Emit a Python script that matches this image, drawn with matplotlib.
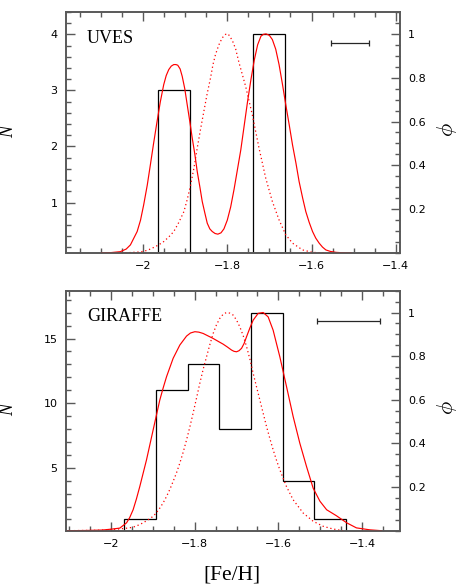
import matplotlib
matplotlib.use("Agg")
import matplotlib.pyplot as plt
from matplotlib.ticker import MultipleLocator, FixedLocator, FuncFormatter

# ---------------- data ----------------
# UVES histogram
uves_edges = [-1.964, -1.889, -1.814, -1.739, -1.664]
uves_counts = [3, 0, 0, 4]
# UVES smoothed distribution (solid)
uves_solid_x = [-2.099, -2.075, -2.054, -2.040, -2.030, -2.014, -2.006, -1.9985, -1.990,
                -1.9826, -1.975, -1.9667, -1.959, -1.951, -1.945, -1.939, -1.933, -1.927,
                -1.922, -1.9176, -1.912, -1.907, -1.901, -1.8952, -1.889, -1.8833, -1.877,
                -1.8714, -1.865, -1.8595, -1.853, -1.8476, -1.8415, -1.8357, -1.829, -1.8224,
                -1.815, -1.808, -1.800, -1.792, -1.784, -1.776, -1.768, -1.760, -1.752,
                -1.744, -1.736, -1.728, -1.720, -1.714, -1.708, -1.700, -1.693, -1.685,
                -1.6771, -1.669, -1.6612, -1.653, -1.6452, -1.637, -1.6295, -1.621, -1.6136,
                -1.6056, -1.5976, -1.590, -1.5819, -1.574, -1.566, -1.555, -1.542, -1.518,
                -1.506]
uves_solid_phi = [0.0, 0.002, 0.006, 0.018, 0.037, 0.098, 0.15, 0.22, 0.31,
                  0.403, 0.50, 0.601, 0.69, 0.768, 0.81, 0.837, 0.853, 0.860,
                  0.860, 0.857, 0.84, 0.806, 0.75, 0.677, 0.60, 0.525, 0.45,
                  0.372, 0.30, 0.235, 0.18, 0.136, 0.11, 0.098, 0.089, 0.086,
                  0.092, 0.11, 0.15, 0.21, 0.29, 0.38, 0.47, 0.58, 0.69,
                  0.79, 0.88, 0.95, 0.99, 0.998, 1.0, 0.993, 0.974, 0.93,
                  0.860, 0.77, 0.677, 0.585, 0.494, 0.41, 0.326, 0.25, 0.189,
                  0.14, 0.098, 0.068, 0.045, 0.027, 0.014, 0.007, 0.003, 0.0,
                  0.0]
# UVES dotted distribution
uves_dot_x = [-2.099, -2.04, -2.006, -1.990, -1.975, -1.963, -1.951, -1.939, -1.927,
              -1.915, -1.903, -1.895, -1.887, -1.879, -1.8714, -1.8635, -1.8557, -1.848,
              -1.8398, -1.834, -1.828, -1.820, -1.812, -1.804, -1.798, -1.788, -1.780,
              -1.7724, -1.7564, -1.7405, -1.7248, -1.7088, -1.693, -1.6771, -1.6612,
              -1.6452, -1.6214, -1.598, -1.57]
uves_dot_phi = [0.0, 0.001, 0.005, 0.012, 0.025, 0.037, 0.052, 0.073, 0.098,
                0.14, 0.189, 0.245, 0.311, 0.39, 0.479, 0.565, 0.646, 0.725,
                0.799, 0.86, 0.906, 0.95, 0.982, 0.998, 1.0, 0.97, 0.93,
                0.87, 0.76, 0.63, 0.48, 0.342, 0.235, 0.151, 0.083,
                0.045, 0.014, 0.003, 0.0]

# GIRAFFE histogram
gir_edges = [-1.969, -1.893, -1.817, -1.741, -1.666, -1.589, -1.514, -1.439]
gir_counts = [1, 11, 13, 8, 17, 4, 1]
gir_solid_x = [-2.107, -2.06, -2.02, -1.995, -1.9785, -1.9625, -1.955, -1.9468, -1.939,
               -1.9308, -1.9148, -1.899, -1.8831, -1.875, -1.867, -1.8513, -1.8353, -1.8193,
               -1.810, -1.7995, -1.790, -1.7797, -1.7558, -1.744, -1.732, -1.722, -1.712,
               -1.706, -1.700, -1.694, -1.688, -1.682, -1.6761, -1.668, -1.6603, -1.6484,
               -1.6365, -1.6246, -1.6127, -1.605, -1.5967, -1.5807, -1.5649, -1.549, -1.533,
               -1.5172, -1.501, -1.485, -1.462, -1.437, -1.414, -1.382, -1.354]
gir_solid_phi = [0.0, 0.001, 0.003, 0.008, 0.012, 0.036, 0.06, 0.096, 0.145,
                 0.203, 0.325, 0.462, 0.599, 0.655, 0.706, 0.790, 0.851, 0.892,
                 0.906, 0.912, 0.910, 0.904, 0.881, 0.868, 0.855, 0.842, 0.828,
                 0.822, 0.820, 0.825, 0.836, 0.858, 0.889, 0.93, 0.965, 0.996,
                 1.0, 0.980, 0.919, 0.86, 0.797, 0.660, 0.523, 0.401, 0.294,
                 0.195, 0.135, 0.096, 0.069, 0.036, 0.013, 0.004, 0.0]
gir_dot_x = [-2.107, -2.03, -1.985, -1.960, -1.947, -1.935, -1.923, -1.911, -1.899,
             -1.891, -1.883, -1.875, -1.867, -1.859, -1.8513, -1.8433, -1.8353, -1.8273,
             -1.8193, -1.8115, -1.8036, -1.7956, -1.7876, -1.7796, -1.7716, -1.7637,
             -1.7558, -1.748, -1.740, -1.732, -1.724, -1.716, -1.708, -1.700, -1.6921,
             -1.684, -1.676, -1.668, -1.6603, -1.6524, -1.6444, -1.6364, -1.6284, -1.6206,
             -1.6127, -1.6047, -1.5967, -1.581, -1.565, -1.541, -1.517, -1.493, -1.47,
             -1.446]
gir_dot_phi = [0.0, 0.002, 0.007, 0.012, 0.016, 0.025, 0.036, 0.05, 0.066,
               0.083, 0.104, 0.128, 0.157, 0.19, 0.226, 0.265, 0.310, 0.36,
               0.416, 0.475, 0.539, 0.607, 0.676, 0.74, 0.797, 0.853,
               0.904, 0.943, 0.973, 0.992, 1.0, 0.997, 0.988, 0.965, 0.934,
               0.893, 0.843, 0.785, 0.721, 0.66, 0.599, 0.538, 0.477, 0.423,
               0.371, 0.323, 0.279, 0.203, 0.142, 0.081, 0.043, 0.02, 0.008,
               0.0]

# error bars (typical uncertainty): centre x, half-width, N level
uves_err = (-1.5085, 0.0455, 3.85)
gir_err = (-1.432, 0.075, 16.33)

xticks = [-2.0, -1.8, -1.6, -1.4]
phi_ticks = [0.2, 0.4, 0.6, 0.8, 1.0]

# ---------------- plotting ----------------
fig = plt.figure(figsize=(4.63, 5.87), dpi=100)

fmt = FuncFormatter(lambda v, p: ("%g" % round(v, 3)).replace("-", "\u2212"))
FRAME = "0.35"
RED = "#ff0000"
serif = "Liberation Serif"


def panel(rect, xlim, ylim, nmaj, nmin, edges, counts, sx, sp, dx, dp, err, label):
    ax = fig.add_axes(rect)
    ax.set_xlim(*xlim)
    ax.set_ylim(*ylim)
    ax.stairs(counts, edges, baseline=0, fill=False, color="black", lw=0.9)
    ax.errorbar([err[0]], [err[2]], xerr=[err[1]], fmt="none", ecolor="0.15",
                elinewidth=0.9, capsize=2.3, capthick=0.9)
    ax.text(0.063, 0.873, label, transform=ax.transAxes, fontsize=13,
            family=serif, ha="left", va="baseline")
    ax2 = ax.twinx()
    ax2.set_ylim(0, 1.10)
    ax2.plot(sx, sp, color=RED, lw=0.85)
    ax2.plot(dx, dp, color=RED, lw=0.9, ls=(0, (1, 2.2)))

    ax.xaxis.set_major_locator(FixedLocator(xticks))
    ax.xaxis.set_minor_locator(MultipleLocator(0.05))
    ax.xaxis.set_major_formatter(fmt)
    ax.xaxis.set_ticks_position("both")
    ax.yaxis.set_major_locator(MultipleLocator(nmaj))
    ax.yaxis.set_minor_locator(MultipleLocator(nmin))
    ax.yaxis.set_major_formatter(fmt)
    ax2.yaxis.set_major_locator(FixedLocator(phi_ticks))
    ax2.yaxis.set_minor_locator(MultipleLocator(0.05))
    ax2.yaxis.set_major_formatter(fmt)

    for a in (ax, ax2):
        a.tick_params(which="major", direction="in", length=6.8, width=1.0,
                      color=FRAME, labelsize=8, pad=6)
        a.tick_params(which="minor", direction="in", length=3.6, width=1.0,
                      color=FRAME)
        for s in a.spines.values():
            s.set_color(FRAME)
            s.set_linewidth(1.2)
    ax.tick_params(axis="x", which="both", top=True, bottom=True,
                   labeltop=False, labelbottom=True)
    ax.tick_params(axis="y", which="both", left=True, right=False)
    for t in ax.get_yticklabels() + ax.get_xticklabels() + ax2.get_yticklabels():
        t.set_family("DejaVu Sans")
    return ax, ax2


panel([0.1425, 0.5690, 0.7214, 0.4106], (-2.183, -1.39), (0.1, 4.4), 1, 0.2,
      uves_edges, uves_counts, uves_solid_x, uves_solid_phi, uves_dot_x, uves_dot_phi,
      uves_err, "UVES")
panel([0.1425, 0.0959, 0.7214, 0.4089], (-2.107, -1.31), (0.13, 18.7), 5, 1,
      gir_edges, gir_counts, gir_solid_x, gir_solid_phi, gir_dot_x, gir_dot_phi,
      gir_err, "GIRAFFE")

# axis labels
for yc in (0.775, 0.3015):
    fig.text(0.0194, yc, "N", rotation=90, ha="center", va="center",
             fontsize=13, family=serif, style="italic")
for yc in (0.7785, 0.3058):
    fig.text(0.9654, yc, r"$\phi$", rotation=90, ha="center", va="center",
             fontsize=16, math_fontfamily="cm")
fig.text(0.501, 0.0204, "[Fe/H]", ha="center", va="center", fontsize=15.5,
         family=serif)

fig.savefig("out.png", dpi=100)
